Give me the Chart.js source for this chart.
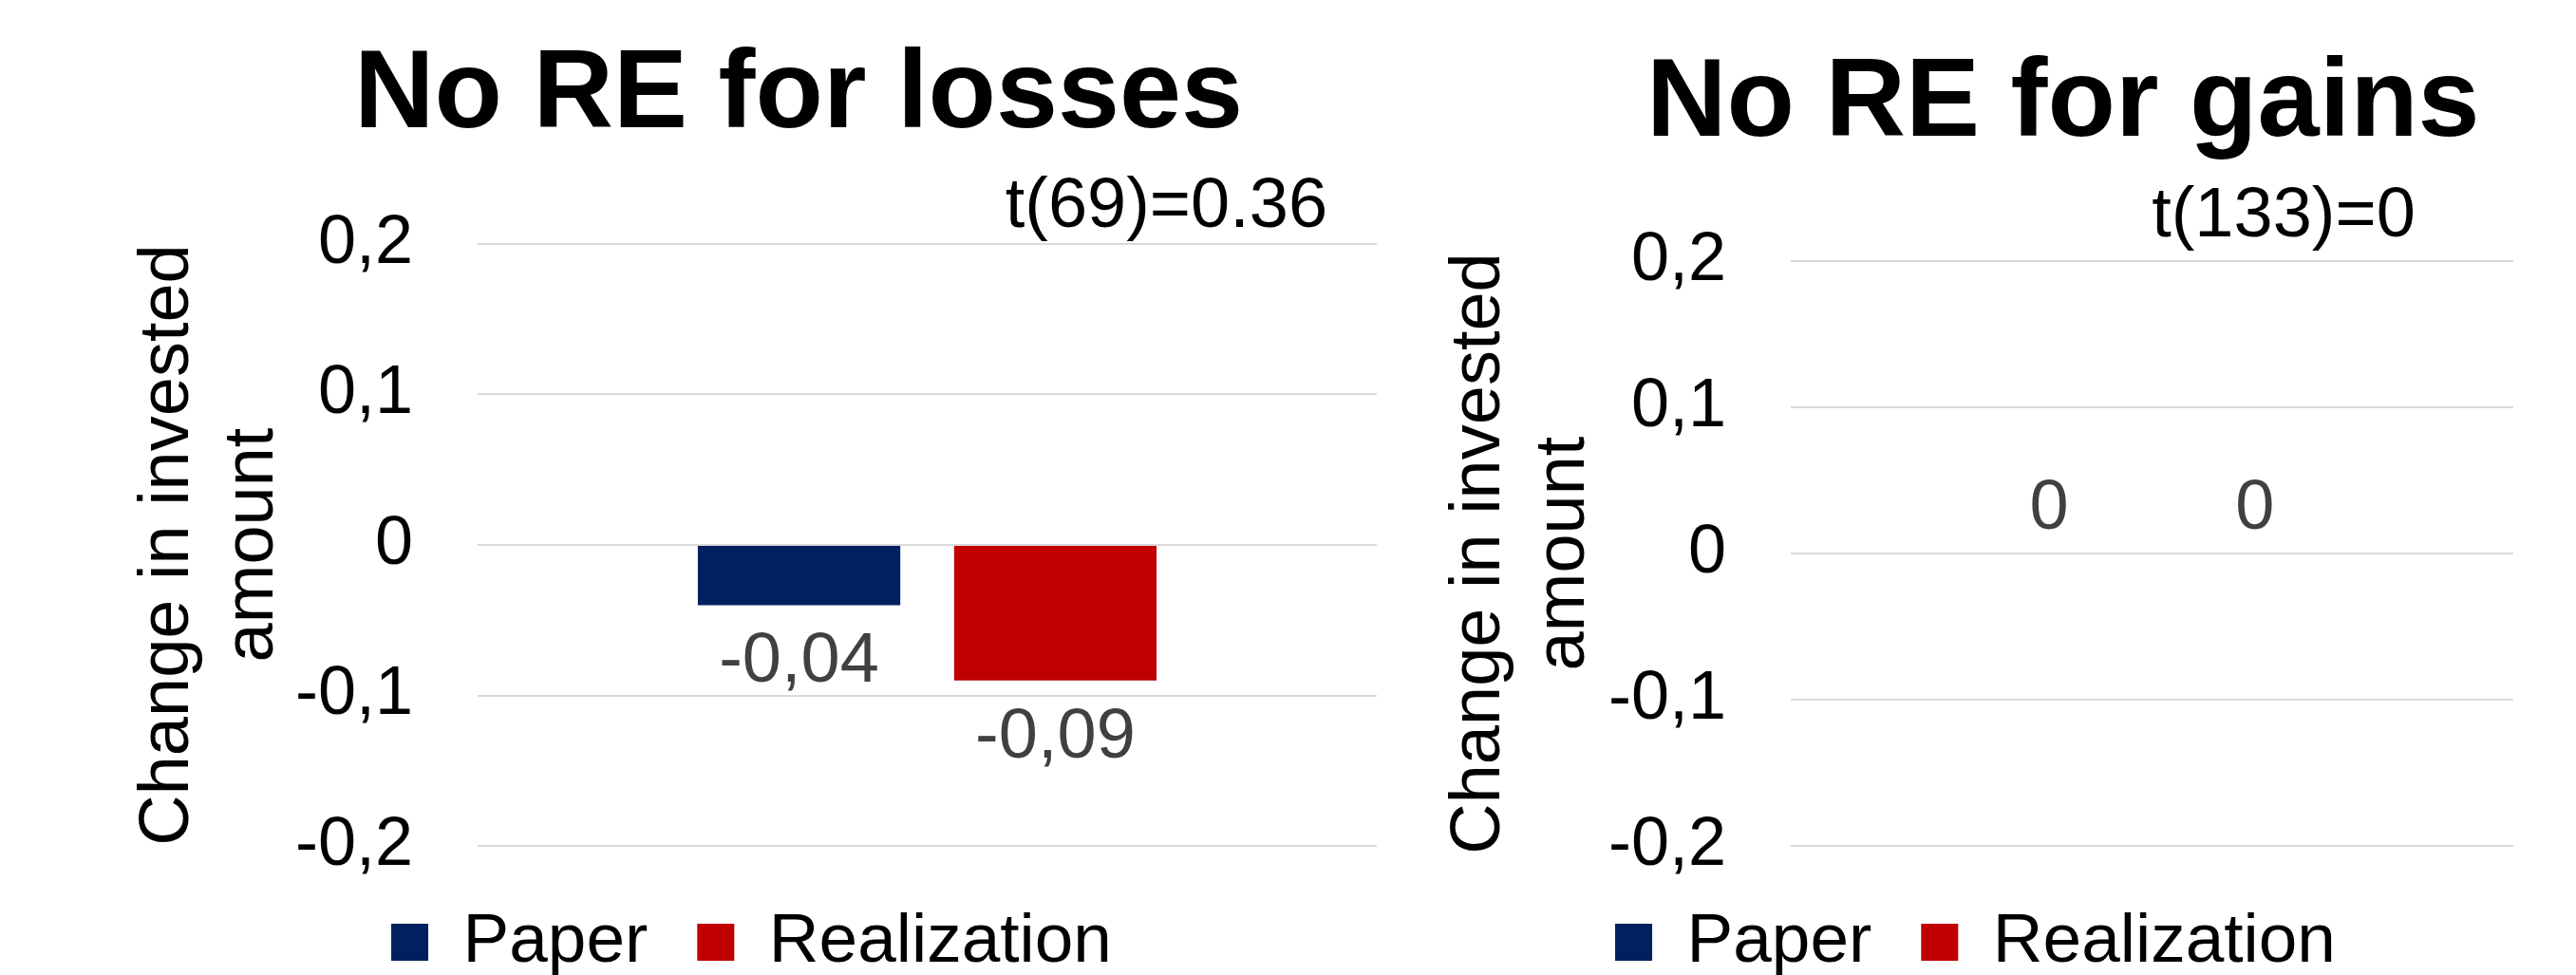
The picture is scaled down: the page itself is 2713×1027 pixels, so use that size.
<!DOCTYPE html>
<html>
<head>
<meta charset="utf-8">
<script src="https://cdn.jsdelivr.net/npm/chart.js@4/dist/chart.umd.min.js"></script>
<style>
  html, body { margin: 0; padding: 0; background: #fff; overflow: hidden; }
  #wrap { position: relative; width: 2713px; height: 1027px; overflow: hidden; }
  canvas { position: absolute; top: 0; }
  #lossChart { left: 0; }
  #gainChart { left: 1500px; }
</style>
</head>
<body>
<div id="wrap">
  <canvas id="lossChart" width="1500" height="1079"></canvas>
  <canvas id="gainChart" width="1213" height="1079"></canvas>
</div>
<script>
// data
const seriesNames = ['Paper', 'Realization'];
const seriesColors = ['#002060', '#C00000'];

const lossCategories = ['Losses'];
const lossPaper = [-0.04];
const lossRealization = [-0.09];

const gainCategories = ['Gains'];
const gainPaper = [0];
const gainRealization = [0];

const yTickValues = [-0.2, -0.1, 0, 0.1, 0.2];
const yTickLabels = ['-0,2', '-0,1', '0', '0,1', '0,2'];

const panelTitles = ['No RE for losses', 'No RE for gains'];
const statTexts = ['t(69)=0.36', 't(133)=0'];
const axisTitle = ['Change in invested', 'amount'];

const FONT = "'Liberation Sans', Arial, sans-serif";

function fmtValue(v) {
  if (v === 0) return '0';
  return String(v).replace('.', ',');
}

// title + t-stat text above plot
const panelText = {
  id: 'panelText',
  afterDraw(chart, args, opts) {
    const ctx = chart.ctx;
    const a = chart.chartArea;
    ctx.save();
    ctx.fillStyle = '#000';
    ctx.textAlign = 'center';
    ctx.textBaseline = 'alphabetic';
    ctx.font = 'bold 117px ' + FONT;
    ctx.fillText(opts.title, a.left + opts.titleX * (a.right - a.left), a.top - opts.titleDy);
    ctx.font = '74px ' + FONT;
    ctx.fillText(opts.stat, a.left + opts.statX * (a.right - a.left), a.top - opts.statDy);
    ctx.restore();
  }
};

// value labels outside the bar end
const barLabels = {
  id: 'barLabels',
  afterDatasetsDraw(chart) {
    const ctx = chart.ctx;
    ctx.save();
    ctx.font = '74px ' + FONT;
    ctx.fillStyle = '#404040';
    ctx.textAlign = 'center';
    ctx.textBaseline = 'alphabetic';
    chart.data.datasets.forEach(function(ds, i) {
      const meta = chart.getDatasetMeta(i);
      meta.data.forEach(function(el, j) {
        const v = ds.data[j];
        const y = v < 0 ? el.y + 81 : el.y - 26;
        ctx.fillText(fmtValue(v), el.x, y);
      });
    });
    ctx.restore();
  }
};

function makeChart(id, cats, paper, realization, cfg) {
  const ctx = document.getElementById(id).getContext('2d');
  return new Chart(ctx, {
    type: 'bar',
    data: {
      labels: cats,
      datasets: [{
        label: seriesNames[0],
        data: paper,
        backgroundColor: seriesColors[0],
        borderWidth: 0
      }, {
        label: seriesNames[1],
        data: realization,
        backgroundColor: seriesColors[1],
        borderWidth: 0
      }]
    },
    options: {
      responsive: false,
      animation: false,
      categoryPercentage: 0.57,
      barPercentage: 0.79,
      layout: {
        padding: { left: cfg.padLeft, right: cfg.padRight, top: cfg.padTop, bottom: 40 }
      },
      scales: {
        x: {
          ticks: { display: false },
          grid: { display: false },
          border: { display: false },
          afterFit: function(scale) { scale.height = 13; }
        },
        y: {
          min: -0.2,
          max: 0.2,
          afterBuildTicks: function(scale) {
            scale.ticks = yTickValues.map(function(v) { return { value: v }; });
          },
          ticks: {
            padding: 68,
            color: '#000',
            font: { family: FONT, size: 72 },
            callback: function(value) {
              const k = yTickValues.findIndex(function(t) { return Math.abs(t - value) < 1e-9; });
              return k >= 0 ? yTickLabels[k] : '';
            }
          },
          grid: { color: '#d9d9d9', lineWidth: 2, drawTicks: false },
          border: { display: false },
          title: {
            display: true,
            text: axisTitle,
            color: '#000',
            font: { family: FONT, size: 74, lineHeight: 1.2 },
            padding: { top: 0, bottom: 0 }
          },
          afterFit: function(scale) { scale.width = cfg.axisWidth; }
        }
      },
      plugins: {
        legend: {
          position: 'bottom',
          labels: {
            boxWidth: 39,
            boxHeight: 39,
            padding: 52,
            color: '#000',
            font: { family: FONT, size: 73 }
          }
        },
        tooltip: { enabled: false },
        panelText: cfg.text
      }
    },
    plugins: [panelText, barLabels]
  });
}

makeChart('lossChart', lossCategories, lossPaper, lossRealization, {
  padLeft: 133, padRight: 50, padTop: 257, axisWidth: 370,
  text: { title: panelTitles[0], titleX: 0.357, titleDy: 123, stat: statTexts[0], statX: 0.766, statDy: 18 }
});

makeChart('gainChart', gainCategories, gainPaper, gainRealization, {
  padLeft: 14, padRight: 66, padTop: 275, axisWidth: 372,
  text: { title: panelTitles[1], titleX: 0.377, titleDy: 132, stat: statTexts[1], statX: 0.682, statDy: 26 }
});
</script>
</body>
</html>
